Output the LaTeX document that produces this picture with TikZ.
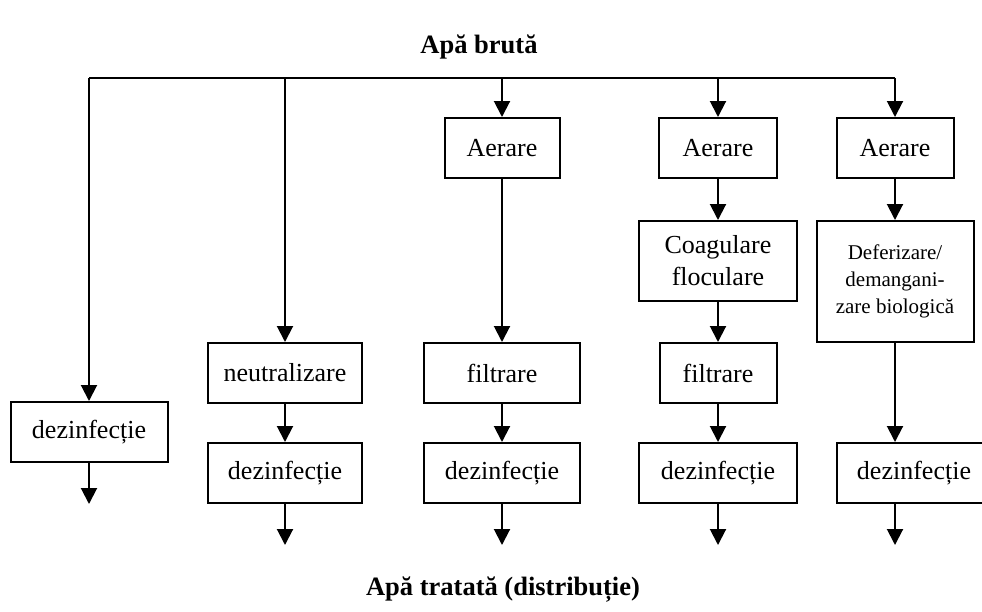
\documentclass[tikz,border=0pt]{standalone}
\usepackage{fontspec}
\setmainfont{Liberation Serif}
\usetikzlibrary{arrows.meta}
\begin{document}
\begin{tikzpicture}[x=1pt,y=-1pt, line width=2pt,
  box/.style={draw, line width=2pt, inner sep=0pt, align=center,
    font=\fontsize{26}{32}\selectfont},
  smallbox/.style={box, font=\fontsize{21}{27}\selectfont},
  ttl/.style={font=\fontsize{26.5}{30}\selectfont\bfseries},
  arr/.style={-{Triangle[width=16pt,length=16pt]}}]
\useasboundingbox (0,0) rectangle (982,611);
\fill[white] (0,0) rectangle (982,611);

\node[ttl] (in) at (479,47) {Apă brută};
\node[ttl] (out) at (503,590) {Apă tratată (distribuție)};

% column 1
\node[box, minimum width=157pt, minimum height=60pt] (d1) at (89,432) {dezinfecție};
% column 2
\node[box, minimum width=154pt, minimum height=60pt] (n2) at (285,373) {neutralizare};
\node[box, minimum width=154pt, minimum height=60pt] (d2) at (285,473) {dezinfecție};
% column 3
\node[box, minimum width=115pt, minimum height=60pt] (a3) at (502,148) {Aerare};
\node[box, minimum width=156pt, minimum height=60pt] (f3) at (502,373) {filtrare};
\node[box, minimum width=156pt, minimum height=60pt] (d3) at (502,473) {dezinfecție};
% column 4
\node[box, minimum width=118pt, minimum height=60pt] (a4) at (718,148) {Aerare};
\node[box, minimum width=158pt, minimum height=80pt] (c4) at (718,261) {Coagulare\\floculare};
\node[box, minimum width=117pt, minimum height=60pt] (f4) at (718,373) {filtrare};
\node[box, minimum width=158pt, minimum height=60pt] (d4) at (718,473) {dezinfecție};
% column 5
\node[box, minimum width=117pt, minimum height=60pt] (a5) at (895,148) {Aerare};
\node[smallbox, minimum width=157pt, minimum height=121pt] (b5) at (895,281.5)
  {\raisebox{6pt}{\begin{tabular}{@{}c@{}}Deferizare/\\demangani-\\zare biologică\end{tabular}}};
\node[box, minimum width=154pt, minimum height=60pt, anchor=west] (d5) at (836,473) {dezinfecție};

% top distribution line
\coordinate (t1) at (89,78);
\coordinate (t2) at (285,78);
\coordinate (t3) at (502,78);
\coordinate (t4) at (718,78);
\coordinate (t5) at (895,78);
\draw (t1) -- (t5);
\draw[arr] (t1) -- (d1.north);
\draw[arr] (t2) -- (n2.north);
\draw[arr] (t3) -- (a3.north);
\draw[arr] (t4) -- (a4.north);
\draw[arr] (t5) -- (a5.north);

\draw[arr] (n2) -- (d2);
\draw[arr] (a3) -- (f3);
\draw[arr] (f3) -- (d3);
\draw[arr] (a4) -- (c4);
\draw[arr] (c4) -- (f4);
\draw[arr] (f4) -- (d4);
\draw[arr] (a5) -- (b5);
\draw[arr] (b5.south) -- (b5.south |- d5.north);

% outputs
\coordinate (o1) at (89,504);
\coordinate (o2) at (285,545);
\coordinate (o3) at (502,545);
\coordinate (o4) at (718,545);
\coordinate (o5) at (895,545);
\draw[arr] (d1.south) -- (o1);
\draw[arr] (d2.south) -- (o2);
\draw[arr] (d3.south) -- (o3);
\draw[arr] (d4.south) -- (o4);
\draw[arr] (d5.south -| o5) -- (o5);
\end{tikzpicture}
\end{document}
